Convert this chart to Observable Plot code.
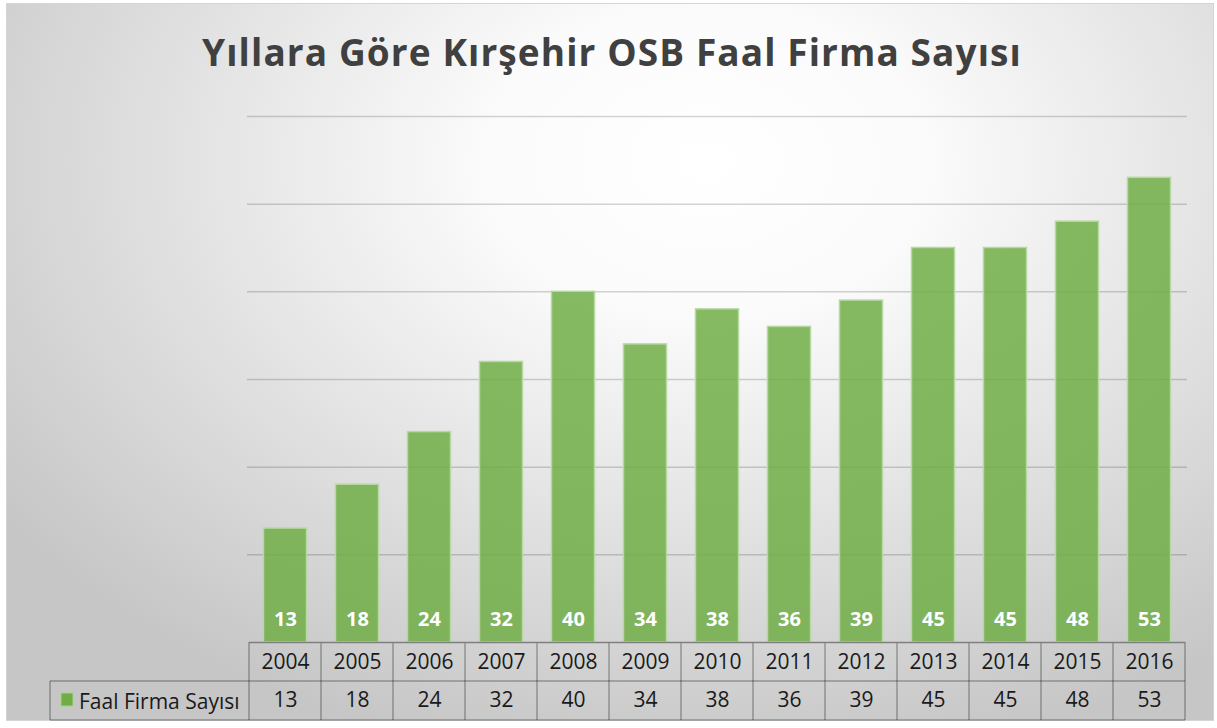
<!DOCTYPE html>
<html>
<head>
<meta charset="utf-8">
<script src="https://cdn.jsdelivr.net/npm/d3@7"></script>
<script src="https://cdn.jsdelivr.net/npm/@observablehq/plot@0.6"></script>
<style>
  html, body { margin: 0; padding: 0; background: #ffffff; }
  #chart {
    position: relative;
    width: 1217px; height: 728px; overflow: hidden;
    background: #ffffff;
  }
  #box {
    position: absolute; left: 6px; top: 3px; width: 1206px; height: 716px;
    border: 1px solid #d4d4d4;
    background: radial-gradient(ellipse 72% 85% at 58% 22%, #ffffff 0%, #fbfbfb 25%, #e6e6e6 55%, #c6c6c6 100%);
  }
  #title {
    position: absolute; left: 0; top: 27px; width: 1224px; text-align: center;
    font-family: "Open Sans", "Noto Sans", sans-serif; font-weight: 700;
    font-size: 37px; line-height: 50px; color: #404040; letter-spacing: 1.1px;
  }
  #chart svg { position: absolute; left: 0; top: 0; }
</style>
</head>
<body>
<div id="chart">
  <div id="box"></div>
  <div id="title">Yıllara Göre Kırşehir OSB Faal Firma Sayısı</div>
</div>
<script>
const years = ["2004","2005","2006","2007","2008","2009","2010","2011","2012","2013","2014","2015","2016"];
const counts = [13, 18, 24, 32, 40, 34, 38, 36, 39, 45, 45, 48, 53];
const seriesName = "Faal Firma Sayısı";
const gridValues = [10, 20, 30, 40, 50, 60];

const data = years.map((year, i) => ({year, count: counts[i]}));
const green = "#70ad47";
const font = "'Open Sans', 'Noto Sans', sans-serif";

// Data table under the plot, drawn from the x band scale
function dataTable(index, scales, values, dimensions) {
  const g = d3.create("svg:g");
  const x = scales.x, y = scales.y;
  const step = x(years[1]) - x(years[0]);
  const left = x(years[0]);
  const right = x(years[years.length - 1]) + step;
  const top = y(0);
  const rowH = 39;
  const legendLeft = 50;
  const line = "rgba(0,0,0,0.3)";
  const seg = (x1, y1, x2, y2, stroke = line) =>
    g.append("line").attr("x1", x1).attr("y1", y1).attr("x2", x2).attr("y2", y2)
      .attr("stroke", stroke).attr("stroke-width", 1.5);
  seg(left, top + rowH, right, top + rowH);
  seg(legendLeft, top + 2 * rowH, right, top + 2 * rowH);
  seg(legendLeft, top + rowH, left, top + rowH);
  seg(legendLeft, top + rowH, legendLeft, top + 2 * rowH);
  for (let i = 0; i <= years.length; i++) {
    const xx = left + i * step;
    seg(xx, top, xx, top + 2 * rowH);
  }
  seg(left, top + 0.5, right, top + 0.5, "#7f7f7f");
  // legend key
  g.append("rect").attr("x", legendLeft + 11).attr("y", top + rowH + 12).attr("width", 12).attr("height", 13)
    .attr("fill", green).attr("stroke", "#a9d18e").attr("stroke-width", 1);
  g.append("text").attr("x", legendLeft + 29).attr("y", top + rowH + 19.5)
    .attr("text-anchor", "start")
    .attr("dominant-baseline", "central")
    .attr("font-family", font).attr("font-size", 21).attr("fill", "#1a1a1a")
    .text(seriesName);
  return g.node();
}

const chart = Plot.plot({
  width: 1217,
  height: 728,
  marginLeft: 247,
  marginRight: 30,
  marginTop: 116,
  marginBottom: 86,
  style: {background: "transparent", fontFamily: font, overflow: "visible"},
  x: {type: "band", domain: years, padding: 0, axis: null},
  y: {domain: [0, 60], axis: null},
  marks: [
    Plot.ruleY(gridValues, {stroke: "#000000", strokeOpacity: 0.17, strokeWidth: 1.5}),
    Plot.barY(data, {
      x: "year", y: "count", fill: green, fillOpacity: 0.85,
      stroke: "#b5d9a0", strokeWidth: 1.5, insetLeft: 14.5, insetRight: 14.5
    }),
    Plot.text(data, {
      x: "year", y: 0, text: d => String(d.count), dy: -23,
      fill: "white", fontWeight: "bold", fontSize: 20, fontFamily: font
    }),
    dataTable,
    Plot.text(data, {
      x: "year", y: 0, text: "year", dy: 20,
      fill: "#1a1a1a", fontSize: 21, fontFamily: font
    }),
    Plot.text(data, {
      x: "year", y: 0, text: d => String(d.count), dy: 58,
      fill: "#1a1a1a", fontSize: 21, fontFamily: font
    })
  ]
});
document.getElementById("chart").appendChild(chart);
</script>
</body>
</html>
